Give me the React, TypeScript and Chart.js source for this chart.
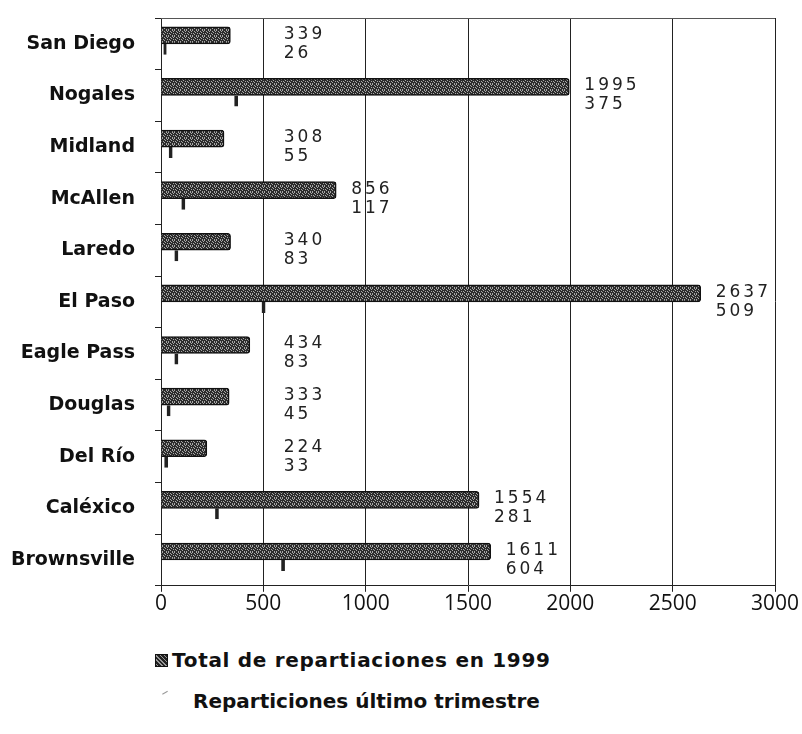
import React, { useEffect, useRef } from "react";
import { Chart, registerables } from "chart.js";

Chart.register(...registerables);

const categories = [
  "San Diego",
  "Nogales",
  "Midland",
  "McAllen",
  "Laredo",
  "El Paso",
  "Eagle Pass",
  "Douglas",
  "Del Río",
  "Caléxico",
  "Brownsville",
];
const total1999 = [339, 1995, 308, 856, 340, 2637, 434, 333, 224, 1554, 1611];
const lastQuarter = [26, 375, 55, 117, 83, 509, 83, 45, 33, 281, 604];
const xTickValues = [0, 500, 1000, 1500, 2000, 2500, 3000];
const seriesNames = ["Total de repartiaciones en 1999", "Reparticiones último trimestre"];

function makePattern(): CanvasPattern | string {
  const c = document.createElement("canvas");
  c.width = 6;
  c.height = 6;
  const g = c.getContext("2d");
  if (!g) return "#555";
  g.fillStyle = "#2c2c2c";
  g.fillRect(0, 0, 6, 6);
  g.fillStyle = "#a8a8a8";
  const dots = [
    [0, 0], [2, 1], [4, 0], [1, 3], [3, 2], [5, 3], [0, 5], [2, 4], [4, 5], [5, 1],
  ];
  dots.forEach(([x, y]) => g.fillRect(x, y, 1, 1));
  return g.createPattern(c, "repeat") || "#555";
}

const valueLabels = {
  id: "valueLabels",
  afterDatasetsDraw(chart: any) {
    const ctx = chart.ctx;
    const meta = chart.getDatasetMeta(0);
    const xs = chart.scales.x;
    ctx.save();
    ctx.font = '17px "DejaVu Sans"';
    (ctx as any).letterSpacing = "3px";
    ctx.fillStyle = "#222";
    ctx.textAlign = "left";
    ctx.textBaseline = "middle";
    meta.data.forEach((bar: any, i: number) => {
      const x = Math.max(bar.x + 15, xs.getPixelForValue(600));
      ctx.fillText(String(total1999[i]), x, bar.y - 1);
      ctx.fillText(String(lastQuarter[i]), x, bar.y + 18);
    });
    ctx.restore();
  },
};

const topFrame = {
  id: "topFrame",
  beforeDatasetsDraw(chart: any) {
    const { ctx, chartArea } = chart;
    ctx.save();
    ctx.strokeStyle = "#555";
    ctx.lineWidth = 1;
    ctx.beginPath();
    ctx.moveTo(chartArea.left, chartArea.top + 0.5);
    ctx.lineTo(chartArea.right, chartArea.top + 0.5);
    ctx.stroke();
    ctx.restore();
  },
};

export default function App() {
  const ref = useRef<HTMLCanvasElement | null>(null);

  useEffect(() => {
    document.body.style.margin = "0";
    if (!ref.current) return;
    const pattern = makePattern();
    const chart = new Chart(ref.current, {
      type: "bar",
      data: {
        labels: categories,
        datasets: [
          {
            label: seriesNames[0],
            data: total1999,
            backgroundColor: pattern as any,
            borderColor: "#111",
            borderWidth: 1.5,
            borderRadius: { topRight: 3, bottomRight: 3, topLeft: 0, bottomLeft: 0 },
            borderSkipped: "start",
            barThickness: 17,
          },
          {
            label: seriesNames[1],
            data: lastQuarter,
            backgroundColor: "rgba(0,0,0,0)",
            borderColor: "#222",
            borderWidth: { top: 0, bottom: 0, left: 0, right: 3 },
            borderSkipped: "start",
            barThickness: 11,
          },
        ],
      },
      options: {
        indexAxis: "y",
        responsive: true,
        maintainAspectRatio: false,
        animation: false,
        layout: { padding: { top: 18, right: 27, bottom: 23, left: 0 } },
        datasets: { bar: { categoryPercentage: 0.64, barPercentage: 1 } },
        plugins: {
          legend: { display: false },
          tooltip: { enabled: false },
        },
        scales: {
          x: {
            type: "linear",
            min: 0,
            max: 3000,
            afterBuildTicks: (scale: any) => {
              scale.ticks = xTickValues.map((v) => ({ value: v }));
            },
            ticks: {
              color: "#111",
              font: { family: "Open Sans", size: 21 },
              padding: 0,
              callback: (v: any) => String(v),
            },
            grid: {
              color: "#222",
              lineWidth: 1,
              drawTicks: true,
              tickLength: 6,
            },
            border: { display: true, color: "#222", width: 1 },
          },
          y: {
            type: "category",
            afterFit: (scale: any) => {
              scale.width = 161;
              scale.paddingTop = 0;
              scale.paddingBottom = 0;
            },
            ticks: {
              color: "#111",
              font: { family: "DejaVu Sans", size: 19, weight: "bold" },
              padding: 20,
            },
            grid: {
              drawOnChartArea: false,
              drawTicks: true,
              tickLength: 6,
              color: "#222",
              offset: true,
            },
            border: { display: true, color: "#222", width: 1 },
          },
        },
      },
      plugins: [valueLabels, topFrame],
    });
    return () => chart.destroy();
  }, []);

  const iconPattern: React.CSSProperties = {
    display: "inline-block",
    width: 13,
    height: 13,
    background:
      "repeating-linear-gradient(45deg,#222 0 1px,#999 1px 2px,#222 2px 3px)",
    border: "1px solid #111",
    boxSizing: "border-box",
  };

  const legendRow: React.CSSProperties = {
    position: "absolute",
    height: 26,
    display: "flex",
    alignItems: "center",
    font: 'bold 20px "DejaVu Sans"',
    color: "#111",
    whiteSpace: "nowrap",
  };

  return (
    <div style={{ position: "relative", width: 802, height: 734, background: "#fff" }}>
      <div style={{ width: 802, height: 640 }}>
        <canvas ref={ref} />
      </div>
      <div style={{ ...legendRow, left: 155, top: 647 }}>
        <span style={iconPattern} />
        <span style={{ marginLeft: 4, letterSpacing: "0.7px" }}>{seriesNames[0]}</span>
      </div>
      <div style={{ ...legendRow, left: 163, top: 688 }}>
        <span
          style={{
            display: "inline-block",
            width: 6,
            height: 4,
            borderTop: "1px solid #999",
            transform: "rotate(-30deg)",
            marginTop: -14,
          }}
        />
        <span style={{ marginLeft: 24 }}>{seriesNames[1]}</span>
      </div>
    </div>
  );
}
